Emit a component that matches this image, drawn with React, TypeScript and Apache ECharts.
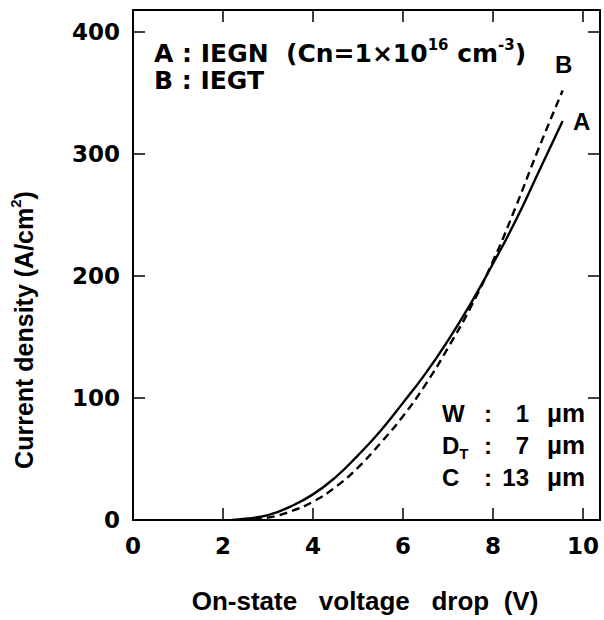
import React, { useEffect, useRef } from "react";
import * as echarts from "echarts";

const voltageA = [2.2, 2.5, 3.0, 3.5, 4.0, 4.5, 5.0, 5.5, 6.0, 6.5, 7.0, 7.5, 8.0, 8.5, 9.0, 9.55];
const currentA = [0, 1, 4, 11, 21, 35, 53, 73, 96, 120, 147, 177, 210, 245, 284, 327];
const voltageB = [2.4, 3.0, 3.5, 4.0, 4.5, 5.0, 5.5, 6.0, 6.5, 7.0, 7.5, 8.0, 8.5, 9.0, 9.55];
const currentB = [0, 2, 7, 15, 27, 43, 63, 85, 111, 141, 174, 212, 256, 303, 352];

const xTicks = [0, 2, 4, 6, 8, 10];
const yTicks = [0, 100, 200, 300, 400];

const FONT = "Liberation Sans, Arial, Helvetica, sans-serif";
const WIDE = "DejaVu Sans, Verdana, sans-serif";

export default function App() {
  const ref = useRef<HTMLDivElement>(null);
  useEffect(() => {
    if (!ref.current) return;
    const chart = echarts.init(ref.current, undefined, { renderer: "svg" });
    const fmtX = (v: number) => (xTicks.some((t) => Math.abs(t - v) < 1e-6) ? String(v) : "");
    const fmtY = (v: number) => (yTicks.some((t) => Math.abs(t - v) < 1e-6) ? String(v) : "");
    const axisCommon = {
      axisLine: { show: true, onZero: false, lineStyle: { color: "#000", width: 2 } },
      axisTick: { show: true, inside: true, length: 12, lineStyle: { color: "#000", width: 1.5 } },
      splitLine: { show: false },
    };
    const labelStyle = { color: "#000", fontFamily: WIDE, fontWeight: "bold" as const, fontSize: 23 };
    const txt = (x: number, y: number, text: string, extra: any = {}, fam: string = FONT, size: number = 24) => ({
      type: "text",
      x,
      y,
      silent: true,
      style: {
        text,
        fill: "#000",
        font: `bold ${size}px ${fam}`,
        textVerticalAlign: "middle",
        rich: {
          sup: { fontSize: 15, fontWeight: "bold", fontFamily: fam, verticalAlign: "top", lineHeight: 32, padding: [0, 0, 13, 0] },
          sub: { fontSize: 15, fontWeight: "bold", fontFamily: fam, verticalAlign: "bottom", lineHeight: 32, padding: [10, 0, 0, 0] },
          n: { fontSize: size, fontWeight: "bold", fontFamily: fam, lineHeight: 32 },
        },
        ...extra,
      },
    });
    chart.setOption({
      animation: false,
      grid: { left: 133, top: 10, right: 4, bottom: 100, containLabel: false },
      xAxis: [
        {
          type: "value",
          position: "bottom",
          min: 0,
          max: 10.38,
          interval: 2,
          ...axisCommon,
          axisLabel: { ...labelStyle, margin: 14, formatter: fmtX, showMaxLabel: false },
        },
        {
          type: "value",
          position: "top",
          min: 0,
          max: 10.38,
          interval: 2,
          ...axisCommon,
          axisLabel: { show: false },
        },
      ],
      yAxis: [
        {
          type: "value",
          position: "left",
          min: 0,
          max: 418,
          interval: 100,
          ...axisCommon,
          axisLabel: { ...labelStyle, margin: 13, formatter: fmtY, showMaxLabel: false },
        },
        {
          type: "value",
          position: "right",
          min: 0,
          max: 418,
          interval: 100,
          ...axisCommon,
          axisLabel: { show: false },
        },
      ],
      series: [
        {
          name: "A",
          type: "line",
          xAxisIndex: 0,
          yAxisIndex: 0,
          smooth: true,
          showSymbol: false,
          data: voltageA.map((v, i) => [v, currentA[i]]),
          lineStyle: { color: "#000", width: 2.4, type: "solid" },
        },
        {
          name: "B",
          type: "line",
          xAxisIndex: 0,
          yAxisIndex: 0,
          smooth: true,
          showSymbol: false,
          data: voltageB.map((v, i) => [v, currentB[i]]),
          lineStyle: { color: "#000", width: 2.4, type: [8, 5] },
        },
      ],
      graphic: [
        txt(154, 53, "{n|A : IEGN  (Cn=1×10}{sup|16}{n| cm}{sup|-3}{n|)}", {}, WIDE, 25),
        txt(154, 80, "{n|B : IEGT}", {}, WIDE, 25),
        txt(555, 64, "B"),
        txt(573, 121, "A"),
        txt(442, 413, "W"),
        txt(442, 445, "{n|D}{sub|T}"),
        txt(442, 477, "C"),
        txt(484, 413, ":"),
        txt(484, 445, ":"),
        txt(484, 477, ":"),
        txt(529, 413, "1", { textAlign: "right" }),
        txt(529, 445, "7", { textAlign: "right" }),
        txt(529, 477, "13", { textAlign: "right" }),
        txt(547, 413, "µm", {}, FONT, 26),
        txt(547, 445, "µm", {}, FONT, 26),
        txt(547, 477, "µm", {}, FONT, 26),
        {
          type: "text",
          x: 365,
          y: 601,
          silent: true,
          style: {
            text: "On-state   voltage   drop  (V)",
            fill: "#000",
            font: `bold 26px ${FONT}`,
            textAlign: "center",
            textVerticalAlign: "middle",
          },
        },
        {
          type: "text",
          x: 24,
          y: 330,
          rotation: Math.PI / 2,
          silent: true,
          style: {
            text: "{n|Current density (A/cm}{sup|2}{n|)}",
            fill: "#000",
            textAlign: "center",
            textVerticalAlign: "middle",
            rich: {
              n: { fontSize: 25, fontWeight: "bold", fontFamily: FONT, lineHeight: 32 },
              sup: { fontSize: 15, fontWeight: "bold", fontFamily: FONT, verticalAlign: "top", lineHeight: 32, padding: [0, 0, 13, 0] },
            },
          },
        },
      ],
    });
    return () => chart.dispose();
  }, []);
  return <div ref={ref} style={{ position: "absolute", left: 0, top: 0, width: 604, height: 620 }} />;
}
